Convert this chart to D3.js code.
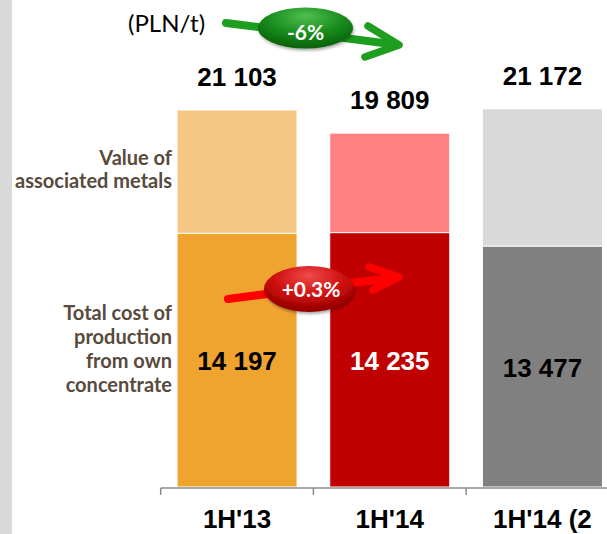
<!DOCTYPE html>
<html><head><meta charset="utf-8">
<script src="https://cdn.jsdelivr.net/npm/d3@7"></script>
<style>
html,body{margin:0;padding:0;background:#fff;}
svg{display:block;}
</style></head>
<body>
<script>
// ---- data ----
const categories = ["1H'13", "1H'14", "1H'14 (2"];
const costValues = [14197, 14235, 13477];        // total cost of production from own concentrate
const totalValues = [21103, 19809, 21172];       // total incl. value of associated metals
const costLabels = ["14 197", "14 235", "13 477"];
const totalLabels = ["21 103", "19 809", "21 172"];
const seriesNames = [["Value of", "associated metals"], ["Total cost of", "production", "from own", "concentrate"]];
const changeLabels = ["-6%", "+0.3%"];
const unitLabel = "(PLN/t)";

const colorsBottom = ["#F0A430", "#C00000", "#808080"];
const colorsTop = ["#F5C684", "#FF8080", "#D9D9D9"];
const costLabelColors = ["#000", "#fff", "#000"];

const W = 607, H = 534;
const svg = d3.select("body").append("svg").attr("width", W).attr("height", H);

const defs = svg.append("defs");
function ellGrad(id, c1, c2, c3) {
  const g = defs.append("radialGradient").attr("id", id)
    .attr("cx", "50%").attr("cy", "30%").attr("r", "70%").attr("fx", "50%").attr("fy", "20%");
  g.append("stop").attr("offset", "0%").attr("stop-color", c1);
  g.append("stop").attr("offset", "60%").attr("stop-color", c2);
  g.append("stop").attr("offset", "100%").attr("stop-color", c3);
}
ellGrad("gGreen", "#4fbf4f", "#16891a", "#075f07");
ellGrad("gRed", "#ef4a4a", "#cc0b0b", "#8e0000");
const f = defs.append("filter").attr("id", "shadow").attr("x", "-20%").attr("y", "-20%").attr("width", "140%").attr("height", "150%");
f.append("feDropShadow").attr("dx", 1).attr("dy", 2).attr("stdDeviation", 1.5).attr("flood-color", "#000").attr("flood-opacity", 0.35);

// left grey strip
svg.append("rect").attr("x", 0).attr("y", 0).attr("width", 12).attr("height", H).attr("fill", "#D9D9D9");

// scales
const x = d3.scaleBand().domain(categories).range([160.7, 618.8]).paddingInner(0.214).paddingOuter(0.107);
const y = d3.scaleLinear().domain([0, 21103]).range([487, 110]);

const data = categories.map((c, i) => ({c, i, cost: costValues[i], total: totalValues[i]}));

// top segments
svg.selectAll("rect.top").data(data).join("rect").attr("class", "top")
  .attr("x", d => x(d.c)).attr("width", x.bandwidth())
  .attr("y", d => y(d.total)).attr("height", d => y(d.cost) - y(d.total))
  .attr("fill", d => colorsTop[d.i]).attr("stroke", "#fff").attr("stroke-width", 1);
// bottom segments
svg.selectAll("rect.bot").data(data).join("rect").attr("class", "bot")
  .attr("x", d => x(d.c)).attr("width", x.bandwidth())
  .attr("y", d => y(d.cost)).attr("height", d => y(0) - y(d.cost))
  .attr("fill", d => colorsBottom[d.i]).attr("stroke", "#fff").attr("stroke-width", 1);

// value labels
const numFont = "'Liberation Sans', Arial, sans-serif";
svg.selectAll("text.tot").data(data).join("text").attr("class", "tot")
  .attr("x", d => x(d.c) + x.bandwidth() / 2).attr("y", d => y(d.total) - 24)
  .attr("text-anchor", "middle").attr("font-family", numFont).attr("font-weight", "bold")
  .attr("font-size", 26).attr("fill", "#000").text(d => totalLabels[d.i]);
svg.selectAll("text.cost").data(data).join("text").attr("class", "cost")
  .attr("x", d => x(d.c) + x.bandwidth() / 2).attr("y", d => (y(d.cost) + y(0)) / 2 + 10)
  .attr("text-anchor", "middle").attr("font-family", numFont).attr("font-weight", "bold")
  .attr("font-size", 26).attr("fill", d => costLabelColors[d.i]).text(d => costLabels[d.i]);

// axis
const axisY = 488;
const axisG = svg.append("g");
axisG.append("line").attr("x1", x.range()[0]).attr("x2", x.range()[1]).attr("y1", axisY).attr("y2", axisY)
  .attr("stroke", "#8C8C8C").attr("stroke-width", 1.5);
categories.forEach((c, i) => {
  const bx = x.range()[0] + i * x.step();
  axisG.append("line").attr("x1", bx).attr("x2", bx).attr("y1", axisY).attr("y2", axisY + 7)
    .attr("stroke", "#8C8C8C").attr("stroke-width", 1.5);
});
const ax = svg.append("g").attr("transform", `translate(0,${axisY})`)
  .call(d3.axisBottom(x).tickSize(0).tickPadding(0));
ax.select(".domain").remove();
ax.selectAll("text").attr("font-family", numFont).attr("font-weight", "bold").attr("font-size", 26)
  .attr("fill", "#000").attr("dy", null).attr("y", 40);

// series labels on left
const labFont = "Lato, 'Open Sans', sans-serif";
const topMid = (y(totalValues[0]) + y(costValues[0])) / 2;
const botMid = (y(costValues[0]) + y(0)) / 2;
function block(lines, mid, lh) {
  const t = svg.append("text").attr("text-anchor", "end").attr("font-family", labFont)
    .attr("font-weight", "bold").attr("font-size", 20).attr("fill", "#584A3C");
  const start = mid - (lines.length - 1) * lh / 2 + 6;
  lines.forEach((l, k) => t.append("tspan").attr("x", 172).attr("y", start + k * lh).text(l));
}
block(seriesNames[0], topMid - 1, 23);
block(seriesNames[1], botMid - 10, 24);

// unit label
svg.append("text").attr("x", 128).attr("y", 32).attr("font-family", labFont).attr("font-size", 24)
  .attr("fill", "#000").text(unitLabel);

// change arrows
function arrow(x1, y1, x2, y2, a1, a2, col) {
  svg.append("line").attr("x1", x1).attr("y1", y1).attr("x2", x2 - 4).attr("y2", y2 - (y2 - y1) * 4 / (x2 - x1))
    .attr("stroke", col).attr("stroke-width", 8).attr("stroke-linecap", "round");
  svg.append("path").attr("d", `M${a1[0]},${a1[1]}L${x2},${y2}L${a2[0]},${a2[1]}`)
    .attr("fill", "none").attr("stroke", col).attr("stroke-width", 7.5)
    .attr("stroke-linecap", "round").attr("stroke-linejoin", "round");
}
arrow(226, 23, 399, 45, [368, 26], [365, 57], "#1E9E1E");
svg.append("ellipse").attr("cx", 305.5).attr("cy", 28).attr("rx", 47.5).attr("ry", 20.5)
  .attr("fill", "url(#gGreen)").attr("filter", "url(#shadow)");
svg.append("text").attr("x", 305.5).attr("y", 40).attr("text-anchor", "middle").attr("font-family", labFont)
  .attr("font-weight", "bold").attr("font-size", 21).attr("fill", "#fff").text(changeLabels[0]);

arrow(228, 299, 399, 277, [369, 267], [373, 290], "#FF0000");
svg.append("ellipse").attr("cx", 309).attr("cy", 289).attr("rx", 45).attr("ry", 23)
  .attr("fill", "url(#gRed)").attr("filter", "url(#shadow)");
svg.append("text").attr("x", 311).attr("y", 297).attr("text-anchor", "middle").attr("font-family", labFont)
  .attr("font-weight", "bold").attr("font-size", 21).attr("fill", "#fff").text(changeLabels[1]);
</script>
</body></html>
